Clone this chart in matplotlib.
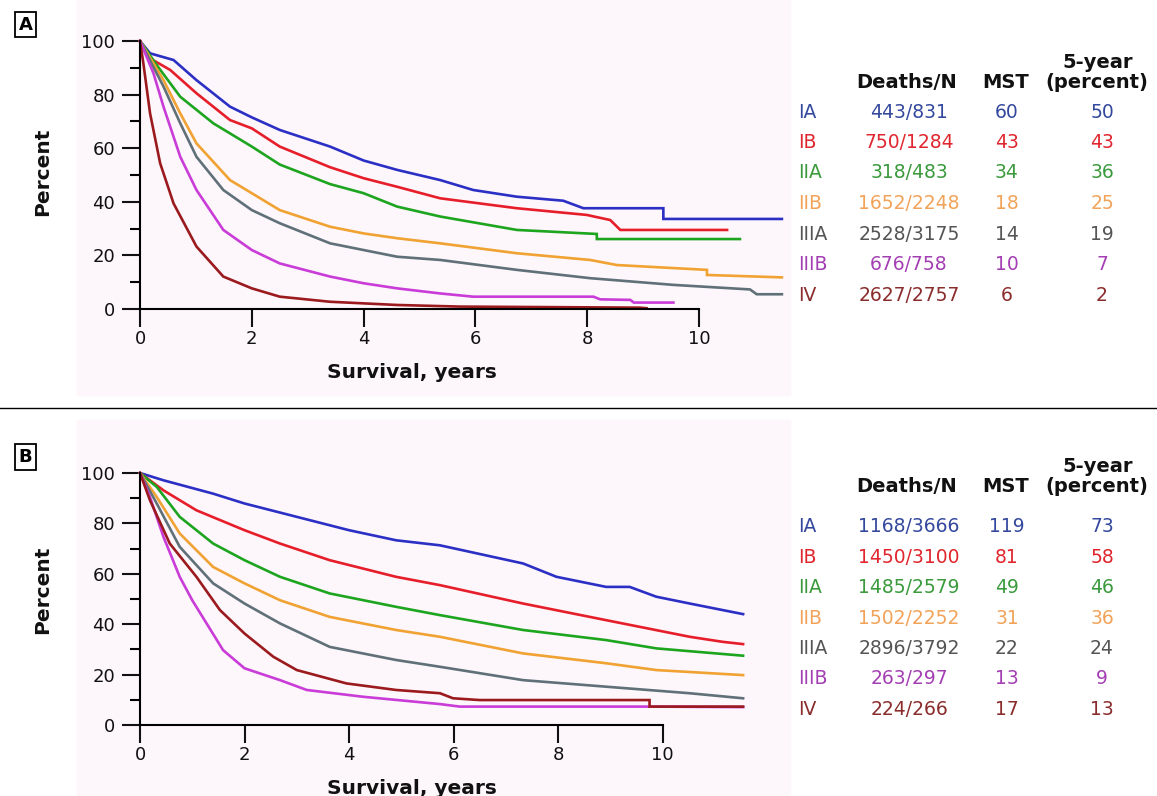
import matplotlib.pyplot as plt
from matplotlib.patches import Rectangle

W, H = 1157, 796

stages = ["IA", "IB", "IIA", "IIB", "IIIA", "IIIB", "IV"]
line_colors = ["#2b2fc4", "#e61e2a", "#1da51f", "#f0a232", "#5f7078", "#c93cd8", "#9a1a1e"]
text_colors = ["#34489e", "#e0262e", "#3a9a3c", "#f2a35a", "#555555", "#a33fb3", "#8a2c2c"]

# panel A (clinical stage) - survival curves
a_x = [
    [0, 0.18, 0.6, 1.01, 1.61, 2.0, 2.5, 3.4, 4.0, 4.6, 5.37, 5.96, 6.74, 7.57, 7.93, 9.36, 9.36, 11.48],
    [0, 0.18, 0.54, 1.01, 1.61, 2.0, 2.5, 3.4, 4.0, 4.6, 5.37, 6.74, 7.99, 8.41, 8.59, 10.5],
    [0, 0.3, 0.72, 1.31, 2.0, 2.5, 3.4, 4.0, 4.6, 5.37, 6.74, 8.17, 8.17, 10.73],
    [0, 0.42, 0.72, 1.01, 1.61, 2.0, 2.5, 3.4, 4.0, 4.6, 5.37, 6.74, 8.05, 8.53, 10.14, 10.14, 11.48],
    [0, 0.42, 0.72, 1.01, 1.49, 2.0, 2.5, 3.4, 4.0, 4.6, 5.37, 6.74, 8.05, 9.54, 10.91, 11.03, 11.48],
    [0, 0.24, 0.42, 0.72, 1.01, 1.49, 2.0, 2.5, 3.4, 4.0, 4.6, 5.37, 5.96, 8.11, 8.23, 8.77, 8.83, 9.54],
    [0, 0.06, 0.18, 0.36, 0.6, 1.01, 1.49, 2.0, 2.5, 3.4, 4.6, 5.72, 8.94, 9.06],
]
a_y = [
    [100, 95.4, 92.9, 85.4, 75.5, 71.5, 66.8, 60.6, 55.4, 51.9, 48.1, 44.4, 41.9, 40.4, 37.6, 37.6, 33.6, 33.6],
    [100, 93.5, 89.2, 80.5, 70.5, 67.4, 60.6, 52.9, 48.8, 45.6, 41.3, 37.6, 35.1, 33.2, 29.5, 29.5],
    [100, 91, 79.2, 69.3, 60.6, 53.9, 46.6, 43.2, 38.2, 34.5, 29.5, 28.0, 26.1, 26.1],
    [100, 85.4, 73, 61.8, 48.1, 43.2, 36.9, 30.7, 28.2, 26.4, 24.5, 20.8, 18.3, 16.4, 14.6, 12.7, 11.8],
    [100, 83, 69.3, 56.8, 44.4, 36.9, 32, 24.5, 22, 19.5, 18.3, 14.6, 11.5, 9.0, 7.3, 5.5, 5.5],
    [100, 88, 75.5, 56.8, 44.4, 29.5, 22, 17, 12.1, 9.6, 7.7, 5.8, 4.6, 4.6, 3.6, 3.4, 2.4, 2.4],
    [100, 91.7, 73, 54.4, 39.4, 23.3, 12.1, 7.7, 4.6, 2.7, 1.5, 0.9, 0.5, 0.3],
]

# panel B (pathologic stage)
b_x = [
    [0, 0.45, 1.4, 2.0, 3.0, 4.0, 4.9, 5.74, 7.33, 7.97, 8.92, 9.37, 9.88, 10.52, 11.15, 11.54],
    [0, 0.45, 1.08, 2.0, 2.68, 3.63, 4.9, 5.74, 7.33, 8.92, 10.52, 11.15, 11.54],
    [0, 0.32, 0.76, 1.4, 2.0, 2.68, 3.63, 4.9, 5.74, 7.33, 8.92, 9.88, 11.54],
    [0, 0.32, 0.76, 1.4, 2.0, 2.68, 3.63, 4.9, 5.74, 7.33, 8.92, 9.88, 11.54],
    [0, 0.32, 0.76, 1.4, 2.0, 2.68, 3.63, 4.9, 5.74, 7.33, 8.92, 10.52, 11.54],
    [0, 0.19, 0.45, 0.76, 1.0, 1.59, 2.0, 2.68, 3.19, 4.27, 5.74, 6.12, 9.75, 11.54],
    [0, 0.19, 0.57, 1.08, 1.53, 2.0, 2.55, 3.0, 3.95, 4.9, 5.74, 5.99, 6.5, 9.75, 9.75, 11.54],
]
b_y = [
    [100, 97.1, 91.8, 87.9, 82.6, 77.3, 73.3, 71.3, 64.1, 58.8, 54.8, 54.8, 50.9, 48.2, 45.6, 44.0],
    [100, 93.1, 85.2, 77.3, 72, 65.4, 58.8, 55.5, 48.2, 41.6, 35, 33, 32.1],
    [100, 94.5, 82.6, 72, 65.4, 58.8, 52.2, 46.9, 43.6, 37.7, 33.7, 30.4, 27.5],
    [100, 90.5, 76, 62.7, 56.2, 49.5, 42.9, 37.7, 35, 28.4, 24.5, 21.8, 19.8],
    [100, 87.9, 70.7, 56.2, 48.2, 40.3, 31, 25.8, 23.1, 17.8, 15.2, 12.6, 10.6],
    [100, 90.5, 74.6, 58.8, 49.5, 29.7, 22.5, 17.8, 13.9, 11.2, 8.3, 7.3, 7.3, 7.1],
    [100, 89.2, 72, 58.8, 45.6, 36.3, 27.1, 21.8, 16.5, 13.9, 12.6, 10.6, 9.9, 9.9, 7.3, 7.3],
]

a_deaths = ["443/831", "750/1284", "318/483", "1652/2248", "2528/3175", "676/758", "2627/2757"]
a_mst = ["60", "43", "34", "18", "14", "10", "6"]
a_5yr = ["50", "43", "36", "25", "19", "7", "2"]
b_deaths = ["1168/3666", "1450/3100", "1485/2579", "1502/2252", "2896/3792", "263/297", "224/266"]
b_mst = ["119", "81", "49", "31", "22", "13", "17"]
b_5yr = ["73", "58", "46", "36", "24", "9", "13"]

plt.rcParams['font.family'] = ['DejaVu Sans']
fig = plt.figure(figsize=(W / 100, H / 100), dpi=100)


def fx(px):
    return px / W


def fy(py):
    return 1 - py / H


# faint pink background behind each plot area
fig.patches.append(Rectangle((fx(77), fy(395)), fx(790) - fx(77), 395 / H,
                             transform=fig.transFigure, color="#fdf6fb", zorder=-5))
fig.patches.append(Rectangle((fx(77), 0), fx(790) - fx(77), fy(420),
                             transform=fig.transFigure, color="#fdf6fb", zorder=-5))
fig.add_artist(plt.Line2D([0, 1], [fy(408), fy(408)], color="black", lw=1.0,
                          transform=fig.transFigure))


def panel(left, top, bottom, right, xs, ys):
    ax = fig.add_axes([fx(left), fy(bottom), fx(right) - fx(left), (bottom - top) / H])
    ax.set_facecolor("none")
    for x, y, c in zip(xs, ys, line_colors):
        ax.plot(x, y, color=c, lw=1.9, solid_joinstyle="miter", clip_on=False)
    ax.set_xlim(0, 11.5)
    ax.set_ylim(0, 100)
    ax.spines["top"].set_visible(False)
    ax.spines["right"].set_visible(False)
    ax.spines["bottom"].set_bounds(0, 10)
    for s in ("left", "bottom"):
        ax.spines[s].set_linewidth(1.5)
    ax.set_xticks(range(0, 11, 2))
    ax.set_yticks(range(0, 101, 20))
    ax.set_yticks(range(10, 100, 20), minor=True)
    ax.tick_params(axis="both", which="major", length=13, width=1.5, labelsize=13, pad=5,
                   colors="#111111")
    ax.tick_params(axis="x", which="major", pad=2)
    ax.tick_params(axis="y", which="minor", length=7, width=1.5)
    return ax


panel(140, 41, 309, 783, a_x, a_y)
panel(140, 473, 725, 741, b_x, b_y)

lab = dict(fontsize=14.5, fontweight="bold", color="#111111")
fig.text(fx(43), fy(172), "Percent", rotation=90, ha="center", va="center", **lab)
fig.text(fx(412), fy(373), "Survival, years", ha="center", va="center", **lab)
fig.text(fx(43), fy(590), "Percent", rotation=90, ha="center", va="center", **lab)
fig.text(fx(412), fy(788), "Survival, years", ha="center", va="center", **lab)

box = dict(boxstyle="square,pad=0.2", fc="white", ec="black", lw=1.3)
fig.text(fx(25.5), fy(24.5), "A", ha="center", va="center", fontsize=13, fontweight="bold", bbox=box)
fig.text(fx(25.5), fy(457), "B", ha="center", va="center", fontsize=13, fontweight="bold", bbox=box)


def table(y5, yhead, row0, step, deaths, mst, five):
    hd = dict(fontsize=14, fontweight="bold", color="#111111", ha="center", va="center")
    fig.text(fx(1098), fy(y5), "5-year", **hd)
    fig.text(fx(1097), fy(yhead), "(percent)", **hd)
    fig.text(fx(907), fy(yhead), "Deaths/N", **hd)
    fig.text(fx(1006), fy(yhead), "MST", **hd)
    for i, st in enumerate(stages):
        y = fy(row0 + i * step)
        c = text_colors[i]
        fig.text(fx(798), y, st, ha="left", va="center", fontsize=13.5, color=c)
        fig.text(fx(909), y, deaths[i], ha="center", va="center", fontsize=13.5, color=c)
        fig.text(fx(1007), y, mst[i], ha="center", va="center", fontsize=13.5, color=c)
        fig.text(fx(1102), y, five[i], ha="center", va="center", fontsize=13.5, color=c)


table(62, 82, 112, 30.5, a_deaths, a_mst, a_5yr)
table(466, 487, 527, 30.4, b_deaths, b_mst, b_5yr)

fig.savefig("out.png", dpi=100)
